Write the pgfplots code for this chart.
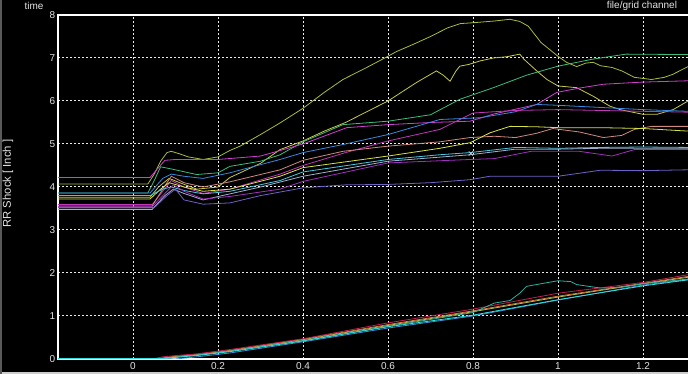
\documentclass[border=0pt]{standalone}
\usepackage{fontspec}
\setmainfont{Liberation Sans}
\usepackage{pgfplots}
\pgfplotsset{compat=1.18}
\definecolor{olive1}{HTML}{A4BC40}
\definecolor{yellow2}{HTML}{C8C84C}
\definecolor{tealgreen}{HTML}{3CBC7C}
\definecolor{magU}{HTML}{D040D0}
\definecolor{blue1}{HTML}{3888E0}
\definecolor{magM}{HTML}{C038B8}
\definecolor{salmon}{HTML}{D08880}
\definecolor{lime}{HTML}{D8E048}
\definecolor{cyan1}{HTML}{48C8E0}
\definecolor{greyblue}{HTML}{A0B0D0}
\definecolor{purpmag}{HTML}{A030C0}
\definecolor{purpblue}{HTML}{7060C8}
\definecolor{red2}{HTML}{C02050}
\definecolor{orange2}{HTML}{D08040}
\definecolor{ygreen2}{HTML}{B8C048}
\definecolor{cyan2}{HTML}{30E0E0}
\definecolor{teal2}{HTML}{30B0A0}
\definecolor{blue2}{HTML}{3890D8}
\definecolor{txt}{HTML}{E4E4E4}
\begin{document}
\begin{tikzpicture}
\path[use as bounding box, fill=black] (0pt,0pt) rectangle (688pt,374pt);
\fill[white!80!black] (0pt,0pt) rectangle (688pt,2.4pt);
\fill[white!35!black] (0pt,0pt) rectangle (1.5pt,374pt);
\begin{axis}[
  at={(58pt,15pt)}, anchor=south west,
  scale only axis, width=632pt, height=344pt,
  xmin=-0.17647, xmax=1.3106, ymin=0, ymax=8,
  axis background/.style={fill=black},
  axis line style={white, line width=1.8pt},
  xtick={0,0.2,0.4,0.6,0.8,1,1.2},
  xticklabels={0,0.2,0.4,0.6,0.8,1,1.2},
  ytick={0,1,2,3,4,5,6,7,8},
  yticklabels={0,1,2,3,4,5,6,7,8},
  major tick length=0pt,
  grid=major,
  major grid style={white!92!black, dash pattern=on 2pt off 2pt, line width=1pt},
  ticklabel style={font=\fontsize{10}{12}\selectfont, text=txt},
  xticklabel style={inner sep=1pt, yshift=-2.5pt},
  yticklabel style={inner sep=1.5pt, xshift=-1pt},
  ylabel={RR Shock [ Inch ]},
  every axis y label/.style={at={(axis description cs:-0.0791,0.51)}, rotate=90, anchor=center, font=\fontsize{11.3}{13}\selectfont, text=txt},
  every axis plot/.append style={line width=0.8pt},
]
% upper group
\addplot[olive1] coordinates {(-0.176,4.07) (0.035,4.07) (0.05,4.3) (0.065,4.6) (0.08,4.8) (0.09,4.83) (0.11,4.77) (0.13,4.7) (0.165,4.64) (0.2,4.7) (0.228,4.85) (0.252,4.95) (0.3,5.22) (0.346,5.49) (0.4,5.83) (0.45,6.2) (0.494,6.5) (0.55,6.78) (0.6,7.04) (0.62,7.15) (0.66,7.32) (0.7,7.5) (0.74,7.7) (0.77,7.8) (0.8,7.82) (0.85,7.86) (0.887,7.9) (0.91,7.85) (0.93,7.74) (0.945,7.55) (0.96,7.36) (0.98,7.2) (1.0,7.04) (1.02,6.9) (1.044,6.8) (1.065,6.88) (1.083,6.9) (1.1,6.82) (1.127,6.78) (1.15,6.7) (1.18,6.55) (1.22,6.5) (1.25,6.55) (1.27,6.62) (1.306,6.8)};
\addplot[yellow2] coordinates {(-0.176,3.76) (0.04,3.76) (0.06,4.0) (0.085,4.2) (0.11,4.1) (0.15,3.95) (0.2,4.0) (0.228,4.22) (0.3,4.55) (0.346,4.87) (0.4,5.07) (0.45,5.3) (0.5,5.5) (0.55,5.75) (0.6,6.0) (0.667,6.43) (0.714,6.7) (0.73,6.6) (0.746,6.46) (0.76,6.7) (0.769,6.81) (0.79,6.85) (0.816,6.93) (0.848,7.0) (0.88,7.03) (0.91,7.09) (0.92,6.97) (0.95,6.7) (0.974,6.5) (1.0,6.35) (1.044,6.31) (1.083,6.11) (1.122,5.88) (1.146,5.8) (1.2,5.69) (1.233,5.69) (1.271,5.8) (1.306,6.0)};
\addplot[tealgreen] coordinates {(-0.176,3.86) (0.035,3.86) (0.05,4.15) (0.065,4.47) (0.09,4.42) (0.15,4.29) (0.2,4.33) (0.228,4.48) (0.3,4.6) (0.346,4.75) (0.4,5.05) (0.494,5.45) (0.6,5.53) (0.7,5.68) (0.769,6.04) (0.848,6.31) (0.926,6.6) (1.0,6.81) (1.08,6.97) (1.16,7.09) (1.306,7.08)};
\addplot[magU] coordinates {(-0.176,4.22) (0.04,4.22) (0.06,4.45) (0.075,4.62) (0.1,4.64) (0.2,4.64) (0.3,4.72) (0.4,5.0) (0.503,5.38) (0.6,5.45) (0.7,5.5) (0.793,5.53) (0.85,5.7) (0.95,5.92) (0.997,6.2) (1.05,6.3) (1.107,6.39) (1.2,6.44) (1.306,6.47)};
\addplot[blue1] coordinates {(-0.176,3.86) (0.04,3.86) (0.07,4.2) (0.09,4.3) (0.12,4.25) (0.165,4.2) (0.228,4.33) (0.346,4.64) (0.4,4.8) (0.5,5.0) (0.6,5.22) (0.722,5.57) (0.816,5.61) (0.9,5.75) (0.95,5.92) (1.0,5.9) (1.1,5.85) (1.2,5.8) (1.306,5.76)};
\addplot[magM] coordinates {(-0.176,3.59) (0.045,3.59) (0.07,3.9) (0.09,4.15) (0.12,4.0) (0.165,3.85) (0.228,3.95) (0.346,4.3) (0.4,4.5) (0.5,4.8) (0.6,5.07) (0.722,5.34) (0.8,5.72) (0.9,5.78) (1.0,5.8) (1.1,5.78) (1.2,5.76) (1.306,5.74)};
\addplot[salmon] coordinates {(-0.176,3.56) (0.045,3.56) (0.07,3.95) (0.09,4.25) (0.12,4.1) (0.165,4.0) (0.228,4.12) (0.346,4.4) (0.4,4.62) (0.494,4.83) (0.6,4.95) (0.722,5.05) (0.793,5.15) (0.85,5.18) (0.9,5.15) (0.95,5.25) (0.988,5.36) (1.05,5.28) (1.107,5.15) (1.15,5.2) (1.18,5.34) (1.22,5.41) (1.306,5.41)};
\addplot[lime] coordinates {(-0.176,3.72) (0.04,3.72) (0.065,3.95) (0.085,4.1) (0.12,4.0) (0.165,3.9) (0.228,3.95) (0.346,4.25) (0.4,4.45) (0.6,4.72) (0.722,4.9) (0.793,5.03) (0.84,5.26) (0.887,5.41) (0.95,5.4) (1.0,5.38) (1.1,5.38) (1.2,5.36) (1.306,5.3)};
\addplot[cyan1] coordinates {(-0.176,3.8) (0.04,3.8) (0.07,3.95) (0.09,4.0) (0.12,3.92) (0.165,3.84) (0.228,3.9) (0.346,4.15) (0.4,4.35) (0.6,4.64) (0.722,4.75) (0.793,4.8) (0.9,4.92) (1.0,4.9) (1.1,4.92) (1.2,4.93) (1.306,4.92)};
\addplot[greyblue] coordinates {(-0.176,3.48) (0.045,3.48) (0.075,3.8) (0.095,3.95) (0.12,3.85) (0.165,3.7) (0.3,4.0) (0.4,4.25) (0.6,4.6) (0.793,4.75) (0.9,4.88) (1.0,4.88) (1.1,4.9) (1.306,4.9)};
\addplot[purpmag] coordinates {(-0.176,3.54) (0.045,3.54) (0.075,3.85) (0.095,4.05) (0.12,3.9) (0.165,3.72) (0.228,3.78) (0.346,3.95) (0.4,4.13) (0.6,4.56) (0.793,4.64) (0.85,4.66) (0.937,4.83) (1.05,4.83) (1.127,4.72) (1.18,4.87) (1.306,4.87)};
\addplot[purpblue] coordinates {(-0.176,3.52) (0.05,3.52) (0.08,3.8) (0.1,3.95) (0.12,3.7) (0.165,3.6) (0.228,3.63) (0.3,3.8) (0.4,3.98) (0.5,4.05) (0.6,4.06) (0.7,4.1) (0.793,4.17) (0.84,4.25) (1.0,4.25) (1.1,4.39) (1.2,4.38) (1.306,4.4)};
\addplot[only marks, mark=x, mark size=3pt, white!80!black, line width=0.6pt] coordinates {(0.795,4.78)};
% lower group
\addplot[blue2] coordinates {(-0.176,0) (0.1,0) (0.15,0.05) (0.228,0.14) (0.4,0.4) (0.6,0.72) (0.8,1.0) (1.0,1.37) (1.2,1.72) (1.306,1.85)};
\addplot[ygreen2] coordinates {(-0.176,0) (0.06,0) (0.1,0.06) (0.15,0.1) (0.228,0.19) (0.4,0.45) (0.6,0.78) (0.8,1.1) (1.0,1.44) (1.2,1.75) (1.306,1.9)};
\addplot[orange2] coordinates {(-0.176,0) (0.05,0) (0.09,0.05) (0.15,0.1) (0.228,0.2) (0.4,0.46) (0.6,0.8) (0.8,1.12) (1.0,1.46) (1.2,1.76) (1.306,1.92)};
\addplot[red2] coordinates {(-0.176,0) (0.045,0) (0.07,0.05) (0.1,0.08) (0.15,0.12) (0.228,0.22) (0.4,0.47) (0.6,0.84) (0.8,1.16) (1.0,1.53) (1.2,1.78) (1.306,1.96)};
\addplot[teal2] coordinates {(-0.176,0) (0.08,0) (0.1,0.04) (0.15,0.09) (0.228,0.18) (0.4,0.43) (0.6,0.76) (0.8,1.08) (0.85,1.3) (0.887,1.36) (0.91,1.53) (0.926,1.69) (0.96,1.75) (1.0,1.82) (1.03,1.8) (1.044,1.73) (1.1,1.65) (1.15,1.67) (1.2,1.75) (1.306,1.86)};
\addplot[cyan2] coordinates {(-0.176,0.01) (0.07,0.01) (0.09,0.03) (0.15,0.08) (0.228,0.17) (0.4,0.42) (0.6,0.75) (0.8,1.02) (1.0,1.38) (1.2,1.7) (1.306,1.84)};
\end{axis}
\node[text=txt, font=\fontsize{10}{12}\selectfont] at (34pt,368.5pt) {time};
\node[text=txt, font=\fontsize{10}{12}\selectfont] at (642pt,368pt) {file/grid channel};
\end{tikzpicture}
\end{document}
